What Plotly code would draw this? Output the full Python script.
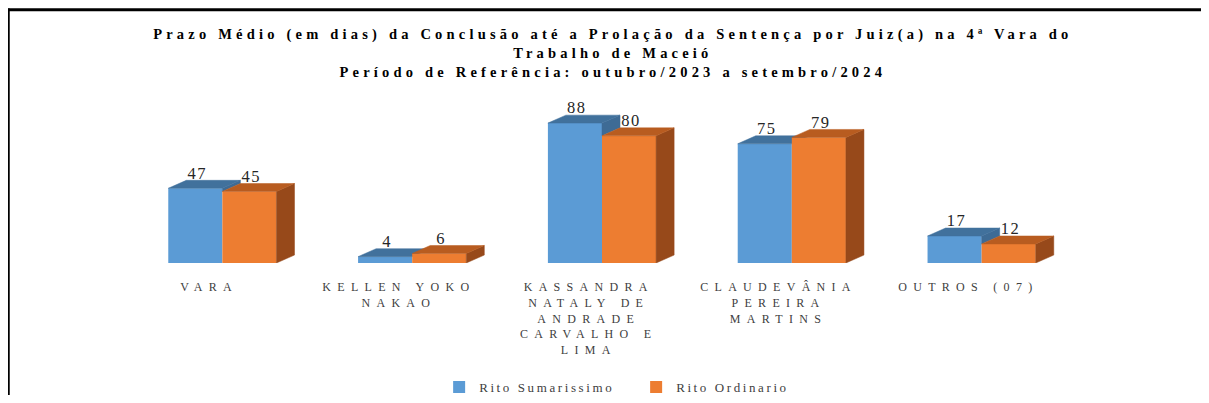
import plotly.graph_objects as go

# data
categories = [
    "VARA",
    "KELLEN YOKO<br>NAKAO",
    "KASSANDRA<br>NATALY DE<br>ANDRADE<br>CARVALHO E<br>LIMA",
    "CLAUDEVÂNIA<br>PEREIRA<br>MARTINS",
    "OUTROS (07)",
]
rito_sumarissimo = [47, 4, 88, 75, 17]
rito_ordinario = [45, 6, 80, 79, 12]
series_names = ["Rito Sumarissimo", "Rito Ordinario"]

title_lines = [
    "Prazo Médio (em dias) da Conclusão até a Prolação da Sentença por Juiz(a) na 4ª Vara do",
    "Trabalho de Maceió",
    "Período de Referência: outubro/2023 a setembro/2024",
]

# 3D look
BAR_W = 0.285
DX = 0.095
DY = 5.0
FONT = "Liberation Serif, Times New Roman, serif"


def spaced(txt, px):
    return "<br>".join(
        f'<span style="letter-spacing:{px}px">{part}</span>' for part in txt.split("<br>")
    )


def polys(xs_list, ys_list):
    xs, ys = [], []
    for px, py in zip(xs_list, ys_list):
        xs += px + [px[0], None]
        ys += py + [py[0], None]
    return xs, ys


def face_trace(xs, ys, color, xaxis, yaxis):
    return go.Scatter(
        x=xs, y=ys, mode="lines", fill="toself", fillcolor=color,
        line=dict(width=0.5, color=color), hoverinfo="skip",
        showlegend=False, xaxis=xaxis, yaxis=yaxis,
    )


def add_series(fig, values, offset, front, top, side, name, xaxis, yaxis, other=None):
    fig.add_trace(
        go.Bar(
            x=list(range(len(values))), y=values, offset=offset, width=BAR_W,
            marker=dict(color=front, line=dict(width=0)), name=spaced(name, 2.6),
            xaxis=xaxis, yaxis=yaxis,
        )
    )
    top_x, top_y, side_x, side_y = [], [], [], []
    for i, v in enumerate(values):
        xl = i + offset
        xr = xl + BAR_W
        top_x.append([xl, xr, xr + DX, xl + DX])
        top_y.append([v, v, v + DY, v + DY])
        base = 0 if other is None else other[i]
        if v > base:
            side_x.append([xr, xr + DX, xr + DX, xr])
            side_y.append([base, base + DY, v + DY, v])
    sx, sy = polys(side_x, side_y)
    tx, ty = polys(top_x, top_y)
    if sx:
        fig.add_trace(face_trace(sx, sy, side, xaxis, yaxis))
    fig.add_trace(face_trace(tx, ty, top, xaxis, yaxis))
    fig.add_trace(
        go.Scatter(
            x=[i + offset + BAR_W / 2 + 0.01 for i in range(len(values))],
            y=[v + DY - 1.5 for v in values], mode="text",
            text=[spaced(str(v), 1.5) for v in values],
            textposition="top center", cliponaxis=False,
            textfont=dict(family=FONT, size=16.5, color="#262626"),
            hoverinfo="skip", showlegend=False, xaxis=xaxis, yaxis=yaxis,
        )
    )


fig = go.Figure()
add_series(fig, rito_sumarissimo, -BAR_W, "#5B9BD5", "#41719C", "#3E6B95",
           series_names[0], "x", "y", other=rito_ordinario)
add_series(fig, rito_ordinario, 0, "#ED7D31", "#B85C20", "#97491A",
           series_names[1], "x2", "y2")

xr_range = [-0.75, 4.75]
yr_range = [0, 100]

# page body has an 8px margin, so the figure is smaller than the window
fig.update_layout(
    width=1193,
    height=387,
    paper_bgcolor="white",
    plot_bgcolor="white",
    margin=dict(l=72, r=76.5, t=96, b=132, autoexpand=False),
    title=dict(
        text=spaced("<br>".join(title_lines), 4.2), x=0.507, xanchor="center",
        y=0.92, yanchor="top",
        font=dict(family=FONT, size=14.5, color="black", weight="bold"),
    ),
    xaxis=dict(
        range=xr_range, tickvals=[i - 0.07 for i in range(len(categories))],
        ticktext=[spaced(c, 6.3) for c in categories], showgrid=False, zeroline=False,
        showline=False, ticks="outside", ticklen=13, tickcolor="white",
        tickfont=dict(family=FONT, size=12, color="#404040"),
    ),
    yaxis=dict(range=yr_range, visible=False),
    xaxis2=dict(range=xr_range, overlaying="x", visible=False),
    yaxis2=dict(range=yr_range, overlaying="y", visible=False),
    legend=dict(
        orientation="h", x=0.344, xanchor="left", y=-0.78, yanchor="middle",
        font=dict(family=FONT, size=13, color="#404040"), itemwidth=30,
        entrywidth=152,
    ),
    showlegend=True,
    shapes=[
        dict(type="line", xref="paper", yref="paper", x0=-0.075, x1=1.1,
             y0=1.593, y1=1.593, line=dict(color="black", width=3)),
        dict(type="line", xref="paper", yref="paper", x0=-0.0685, x1=-0.0685,
             y0=1.6, y1=-0.9, line=dict(color="black", width=2.5)),
    ],
)

fig.write_html("out.html")
